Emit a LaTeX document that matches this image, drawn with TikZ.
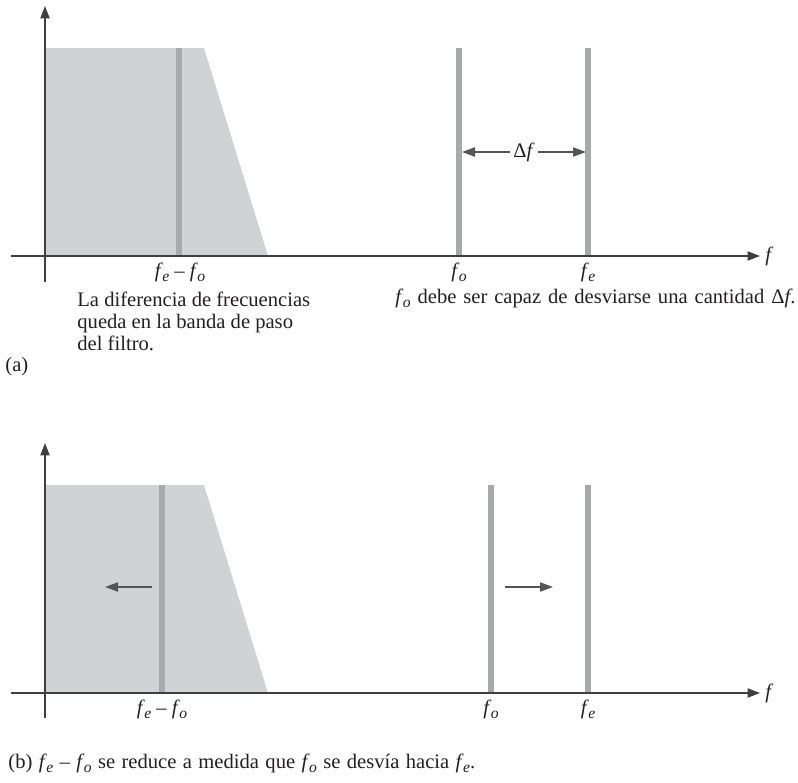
\documentclass[tikz,border=0pt]{standalone}
\usepackage{fontspec}
\setmainfont{Liberation Serif}
\usetikzlibrary{arrows.meta}
\definecolor{fillgray}{HTML}{D1D2D4}
\definecolor{bargray}{HTML}{A7A9AC}
\definecolor{axisgray}{HTML}{3F3F3F}
\definecolor{arrgray}{HTML}{555555}
\definecolor{txt}{HTML}{231F20}
\newcommand{\fsub}[1]{\textit{f}\kern-0.3pt\raisebox{-0.45ex}{\fontsize{7.8}{8}\selectfont\textit{#1}}}
\newcommand{\fdiff}{\fsub{e} – \fsub{o}}
\begin{document}
\begin{tikzpicture}[x=0.5pt,y=-0.5pt,
  font=\fontsize{10.3pt}{11pt}\selectfont, text=txt,
  axis/.style={draw=axisgray,line width=0.75pt,-{Triangle[length=6.2pt,width=4.6pt]}},
  bar/.style={draw=bargray,line width=2.6pt},
  movearrow/.style={draw=arrgray,line width=0.7pt,-{Triangle[length=6.5pt,width=4.6pt]}},
  lbl/.style={inner sep=0pt,anchor=base},
  txtl/.style={inner sep=0pt,anchor=base west}]
\useasboundingbox (0,0) rectangle (798,782);
% ---------- panel (a) ----------
\fill[fillgray] (45,48) -- (204,48) -- (268,256) -- (45,256) -- cycle;
\coordinate (ya0) at (45,282); \coordinate (ya1) at (45,6);
\coordinate (xa0) at (11,256); \coordinate (xa1) at (760,256);
\coordinate (b1t) at (179,48); \coordinate (b1b) at (179,256);
\coordinate (b2t) at (459,48); \coordinate (b2b) at (459,256);
\coordinate (b3t) at (588,48); \coordinate (b3b) at (588,256);
\draw[bar] (b1t) -- (b1b);
\draw[bar] (b2t) -- (b2b);
\draw[bar] (b3t) -- (b3b);
\draw[axis] (ya0) -- (ya1);
\draw[axis] (xa0) -- (xa1);
\node[txtl] (fa) at (765,261) {\textit{f}};
\node[lbl] (dfa) at (180,277) {\fdiff};
\node[lbl] (foa) at (459,277) {\fsub{o}};
\node[lbl] (fea) at (588,277) {\fsub{e}};
\node[inner sep=1.5pt] (delta) at (524,152) {Δ\textit{f}};
\coordinate (dl) at (462,152); \coordinate (dr) at (586,152);
\draw[movearrow] (delta.west) -- (dl);
\draw[movearrow] (delta.east) -- (dr);
\node[txtl] (t1) at (77,306) {La diferencia de frecuencias};
\node[txtl] (t2) at (77,328) {queda en la banda de paso};
\node[txtl] (t3) at (77,350) {del filtro.};
\node[txtl] (t4) at (395,303) {\spaceskip=3.45pt\fsub{o} debe ser capaz de desviarse una cantidad Δ\textit{f}.};
\node[txtl] (capa) at (5,371) {(a)};
% ---------- panel (b) ----------
\fill[fillgray] (45,485) -- (204,485) -- (268,693) -- (45,693) -- cycle;
\coordinate (yb0) at (45,718); \coordinate (yb1) at (45,443);
\coordinate (xb0) at (11,693); \coordinate (xb1) at (760,693);
\coordinate (c1t) at (162,485); \coordinate (c1b) at (162,693);
\coordinate (c2t) at (491,485); \coordinate (c2b) at (491,693);
\coordinate (c3t) at (588,485); \coordinate (c3b) at (588,693);
\draw[bar] (c1t) -- (c1b);
\draw[bar] (c2t) -- (c2b);
\draw[bar] (c3t) -- (c3b);
\draw[axis] (yb0) -- (yb1);
\draw[axis] (xb0) -- (xb1);
\coordinate (la0) at (152,587); \coordinate (la1) at (105,587);
\coordinate (ra0) at (505,587); \coordinate (ra1) at (553,587);
\draw[movearrow] (la0) -- (la1);
\draw[movearrow] (ra0) -- (ra1);
\node[txtl] (fb) at (765,698) {\textit{f}};
\node[lbl] (dfb) at (162,714) {\fdiff};
\node[lbl] (fob) at (491,714) {\fsub{o}};
\node[lbl] (feb) at (588,714) {\fsub{e}};
\node[txtl] (capb) at (8,768) {\spaceskip=3.2pt(b) \fdiff{} se reduce a medida que \fsub{o} se desvía hacia \fsub{e}.};
\end{tikzpicture}
\end{document}
